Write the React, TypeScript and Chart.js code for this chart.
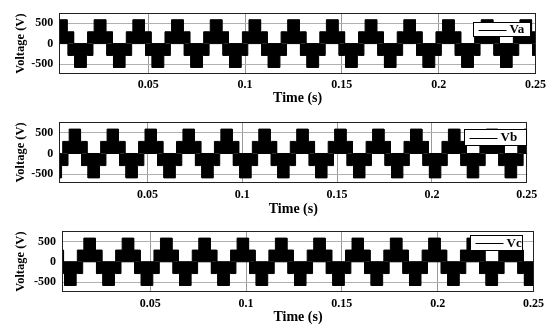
import React, { useEffect, useRef } from 'react';
import { Chart, registerables } from 'chart.js';

Chart.register(...registerables);

// ---------- data ----------
const xTicks = [0.05, 0.1, 0.15, 0.2, 0.25];
const yTicks = [-500, 0, 500];
// output voltage levels of the stepped (5-level) waveform, in V
const level1 = 290;
const level2 = 585;
// lobe shape (s from lobe centre): half width of the outer block and of the inner step
const blockHalfWidth = 0.003;
const stepHalfWidth = 0.0064;

// centres of the positive and negative lobes (s)
const vaPosPeaks = [0.005, 0.025, 0.045, 0.065, 0.085, 0.105, 0.125, 0.145, 0.165, 0.185, 0.205, 0.225, 0.245];
const vaNegPeaks = [-0.005, 0.015, 0.035, 0.055, 0.075, 0.095, 0.115, 0.135, 0.155, 0.175, 0.195, 0.215, 0.235, 0.255];
const vbPosPeaks = [-0.0083, 0.0117, 0.0317, 0.0517, 0.0717, 0.0917, 0.1117, 0.1317, 0.1517, 0.1717, 0.1917, 0.2117, 0.2317, 0.2517];
const vbNegPeaks = [0.0017, 0.0217, 0.0417, 0.0617, 0.0817, 0.1017, 0.1217, 0.1417, 0.1617, 0.1817, 0.2017, 0.2217, 0.2417, 0.2617];
const vcPosPeaks = [-0.0017, 0.0183, 0.0383, 0.0583, 0.0783, 0.0983, 0.1183, 0.1383, 0.1583, 0.1783, 0.1983, 0.2183, 0.2383, 0.2583];
const vcNegPeaks = [0.0083, 0.0283, 0.0483, 0.0683, 0.0883, 0.1083, 0.1283, 0.1483, 0.1683, 0.1883, 0.2083, 0.2283, 0.2483];

const seriesNames = ['Va', 'Vb', 'Vc'];

// ---------- build step envelopes from the lobe lists ----------
type Pt = { x: number; y: number };

function buildEnvelopes(pos: number[], neg: number[], xMin: number, xMax: number) {
  const edges: number[] = [xMin, xMax];
  for (const c of [...pos, ...neg]) {
    for (const d of [-stepHalfWidth, -blockHalfWidth, blockHalfWidth, stepHalfWidth]) {
      const t = c + d;
      if (t > xMin && t < xMax) edges.push(t);
    }
  }
  edges.sort((p, q) => p - q);
  const levelAt = (t: number) => {
    let u = 0;
    let l = 0;
    for (const c of pos) {
      const d = Math.abs(t - c);
      if (d < blockHalfWidth) u = Math.max(u, level2);
      else if (d < stepHalfWidth) u = Math.max(u, level1);
    }
    for (const c of neg) {
      const d = Math.abs(t - c);
      if (d < blockHalfWidth) l = Math.min(l, -level2);
      else if (d < stepHalfWidth) l = Math.min(l, -level1);
    }
    return { u, l };
  };
  const upper: Pt[] = [];
  const lower: Pt[] = [];
  for (let i = 0; i < edges.length - 1; i++) {
    const a = edges[i];
    const b = edges[i + 1];
    if (b - a < 1e-9) continue;
    const { u, l } = levelAt((a + b) / 2);
    upper.push({ x: a, y: u }, { x: b, y: u });
    lower.push({ x: a, y: l }, { x: b, y: l });
  }
  return { upper, lower };
}

// ---------- layout of the three panels ----------
type Panel = {
  name: string;
  pos: number[];
  neg: number[];
  top: number;
  height: number;
  left: number;
  right: number;
  areaTop: number;
  areaBottom: number;
  xMin: number;
  xMax: number;
  yMin: number;
  yMax: number;
  labelPad: number;
  titlePad: number;
  legend: { x: number; y: number; w: number; h: number };
};

const FONT = "'Liberation Serif', 'Times New Roman', serif";

const panels: Panel[] = [
  {
    name: seriesNames[0], pos: vaPosPeaks, neg: vaNegPeaks,
    top: 0, height: 109, left: 59.3, right: 536, areaTop: 12.7, areaBottom: 74,
    xMin: 0.004, xMax: 0.2503, yMin: -745, yMax: 745, labelPad: 3.8, titlePad: 2.2,
    legend: { x: 473.3, y: 22.3, w: 56.7, h: 14.4 },
  },
  {
    name: seriesNames[1], pos: vbPosPeaks, neg: vbNegPeaks,
    top: 109, height: 109, left: 59.3, right: 527.3, areaTop: 10.3, areaBottom: 73.7,
    xMin: 0.0035, xMax: 0.2503, yMin: -700, yMax: 750, labelPad: 5.1, titlePad: 0.7,
    legend: { x: 464, y: 20.3, w: 61.7, h: 15.7 },
  },
  {
    name: seriesNames[2], pos: vcPosPeaks, neg: vcNegPeaks,
    top: 218, height: 110, left: 62, right: 534, areaTop: 6.7, areaBottom: 74,
    xMin: 0.0039, xMax: 0.2503, yMin: -745, yMax: 755, labelPad: 4.8, titlePad: 2.7,
    legend: { x: 470, y: 16.7, w: 52.3, h: 15 },
  },
];

function PanelChart({ p }: { p: Panel }) {
  const ref = useRef<HTMLCanvasElement | null>(null);
  useEffect(() => {
    const canvas = ref.current;
    if (!canvas) return;
    const { upper, lower } = buildEnvelopes(p.pos, p.neg, p.xMin, p.xMax);

    const framePlugin = {
      id: 'frame',
      afterDatasetsDraw(chart: any) {
        const { ctx, chartArea: a } = chart;
        ctx.save();
        ctx.strokeStyle = '#222';
        ctx.lineWidth = 1;
        const l = Math.round(a.left) + 0.5;
        const t = Math.round(a.top) + 0.5;
        const r = Math.round(a.right) - 0.5;
        const b = Math.round(a.bottom) - 0.5;
        ctx.strokeRect(l, t, r - l, b - t);
        ctx.restore();
      },
    };
    const legendPlugin = {
      id: 'boxLegend',
      afterDraw(chart: any) {
        const { ctx } = chart;
        const g = p.legend;
        ctx.save();
        const x = Math.round(g.x) + 0.5;
        const y = Math.round(g.y) + 0.5;
        const w = Math.round(g.w);
        const h = Math.round(g.h);
        ctx.fillStyle = '#fff';
        ctx.fillRect(x, y, w, h);
        ctx.strokeStyle = '#000';
        ctx.lineWidth = 1;
        ctx.strokeRect(x, y, w, h);
        const my = Math.round(y + h / 2) + 0.5;
        ctx.beginPath();
        ctx.moveTo(x + 5, my);
        ctx.lineTo(x + 33, my);
        ctx.stroke();
        ctx.fillStyle = '#000';
        ctx.font = `bold 13px ${FONT}`;
        ctx.textBaseline = 'middle';
        ctx.textAlign = 'left';
        ctx.fillText(p.name, x + 36, y + h / 2 + 0.5);
        ctx.restore();
      },
    };

    const chart = new Chart(canvas, {
      type: 'line',
      data: {
        datasets: [
          {
            label: p.name,
            data: upper,
            borderColor: '#000',
            backgroundColor: '#000',
            borderWidth: 1,
            pointRadius: 0,
            fill: 'origin',
            tension: 0,
          },
          {
            label: p.name + ' lower',
            data: lower,
            borderColor: '#000',
            backgroundColor: '#000',
            borderWidth: 1,
            pointRadius: 0,
            fill: 'origin',
            tension: 0,
          },
        ],
      },
      options: {
        responsive: false,
        animation: false,
        devicePixelRatio: 1,
        events: [],
        layout: { padding: { left: 0, right: 550 - p.right, top: p.areaTop, bottom: 0 } },
        plugins: { legend: { display: false }, tooltip: { enabled: false } },
        scales: {
          x: {
            type: 'linear',
            min: p.xMin,
            max: p.xMax,
            afterBuildTicks: (s: any) => {
              s.ticks = xTicks.map((v) => ({ value: v }));
            },
            afterFit: (s: any) => {
              s.height = p.height - p.areaBottom;
            },
            ticks: {
              autoSkip: false,
              maxRotation: 0,
              padding: p.labelPad,
              color: '#000',
              font: { family: FONT, size: 12, weight: 'bold' },
              callback: (v: any) => String(v),
            },
            grid: { color: '#9a9a9a', drawTicks: false, lineWidth: 1 },
            border: { display: false },
            title: {
              display: true,
              text: 'Time (s)',
              color: '#000',
              font: { family: FONT, size: 14, weight: 'bold' },
              padding: { top: 0, bottom: p.titlePad },
            },
          },
          y: {
            type: 'linear',
            min: p.yMin,
            max: p.yMax,
            afterBuildTicks: (s: any) => {
              s.ticks = yTicks.map((v) => ({ value: v }));
            },
            afterFit: (s: any) => {
              s.width = p.left;
            },
            ticks: {
              padding: 6,
              color: '#000',
              font: { family: FONT, size: 12, weight: 'bold' },
              callback: (v: any) => String(v),
            },
            grid: { color: '#b0b0b0', drawTicks: false, lineWidth: 1 },
            border: { display: false },
            title: {
              display: true,
              text: 'Voltage (V)',
              color: '#000',
              font: { family: FONT, size: 12.5, weight: 'bold' },
              padding: { top: 13.5, bottom: 0 },
            },
          },
        },
      },
      plugins: [framePlugin, legendPlugin],
    } as any);
    return () => chart.destroy();
  }, [p]);

  return (
    <canvas
      ref={ref}
      width={550}
      height={p.height}
      style={{ position: 'absolute', left: 0, top: p.top, width: 550, height: p.height, display: 'block' }}
    />
  );
}

export default function App() {
  return (
    <div style={{ position: 'fixed', left: 0, top: 0, width: 550, height: 328, background: '#fff', overflow: 'hidden' }}>
      {panels.map((p) => (
        <PanelChart key={p.name} p={p} />
      ))}
    </div>
  );
}
